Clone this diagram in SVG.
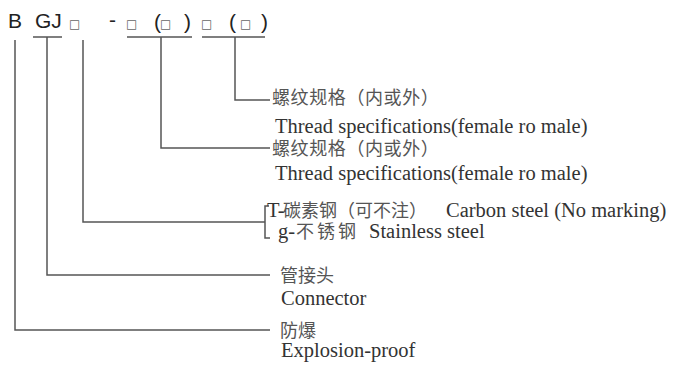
<svg xmlns="http://www.w3.org/2000/svg" width="677" height="367" viewBox="0 0 677 367">
<style>
.code{font-family:"Liberation Sans",Arial,sans-serif;font-size:21px;fill:#222}
.sq{font-family:"DejaVu Sans",sans-serif;font-size:12px;fill:#666}
.cn{font-family:"Noto Sans CJK SC","Noto Sans CJK JP",sans-serif;font-size:18px;fill:#555}
.en{font-family:"Liberation Serif","Times New Roman",serif;font-size:20.5px;fill:#333}
.ln{fill:none;stroke:#555;stroke-width:1.5}
</style>
<rect width="677" height="367" fill="#fff"/>
<g id="code">
<text class="code" x="8" y="28">B</text>
<text class="code" x="35" y="28">GJ</text>
<text class="sq" x="69" y="28">□</text>
<text class="code" x="109" y="27">-</text>
<text class="sq" x="126" y="28">□</text>
<text class="code" x="154" y="29">(</text>
<text class="sq" x="160" y="28">□</text>
<text class="code" x="184" y="29">)</text>
<text class="sq" x="201" y="28">□</text>
<text class="code" x="229" y="29">(</text>
<text class="sq" x="240" y="28">□</text>
<text class="code" x="261" y="29">)</text>
</g>
<g id="connectors">
<path class="ln" d="M15,40 V330 H270"/>
<path class="ln" d="M33,37 H62 M47,37 V275 H270"/>
<path class="ln" d="M83,40 V222 H265 M269,206 H265 V238 H270"/>
<path class="ln" d="M127,37 H192 M161,37 V148 H270"/>
<path class="ln" d="M202,37 H265 M235,37 V100 H270"/>
</g>
<g id="thread2">
<text class="cn" x="272" y="104" letter-spacing="0.6">螺纹规格（内或外）</text>
<text class="en" x="275" y="133">Thread specifications(female ro male)</text>
</g>
<g id="thread1">
<text class="cn" x="272" y="155" letter-spacing="0.6">螺纹规格（内或外）</text>
<text class="en" x="275" y="180">Thread specifications(female ro male)</text>
</g>
<g id="material">
<text class="en" x="267" y="217" font-size="19">T-</text>
<text class="cn" x="283" y="217" font-size="17">碳素钢（可不注）</text>
<text class="en" x="446" y="217">Carbon steel (No marking)</text>
<text class="en" x="278" y="238" font-size="19">g-</text>
<text class="cn" x="296" y="238" font-size="18" letter-spacing="3">不锈钢</text>
<text class="en" x="369" y="238">Stainless steel</text>
</g>
<g id="connector">
<text class="cn" x="280" y="282">管接头</text>
<text class="en" x="281" y="305">Connector</text>
</g>
<g id="explosion">
<text class="cn" x="280" y="337">防爆</text>
<text class="en" x="281" y="357">Explosion-proof</text>
</g>
</svg>
